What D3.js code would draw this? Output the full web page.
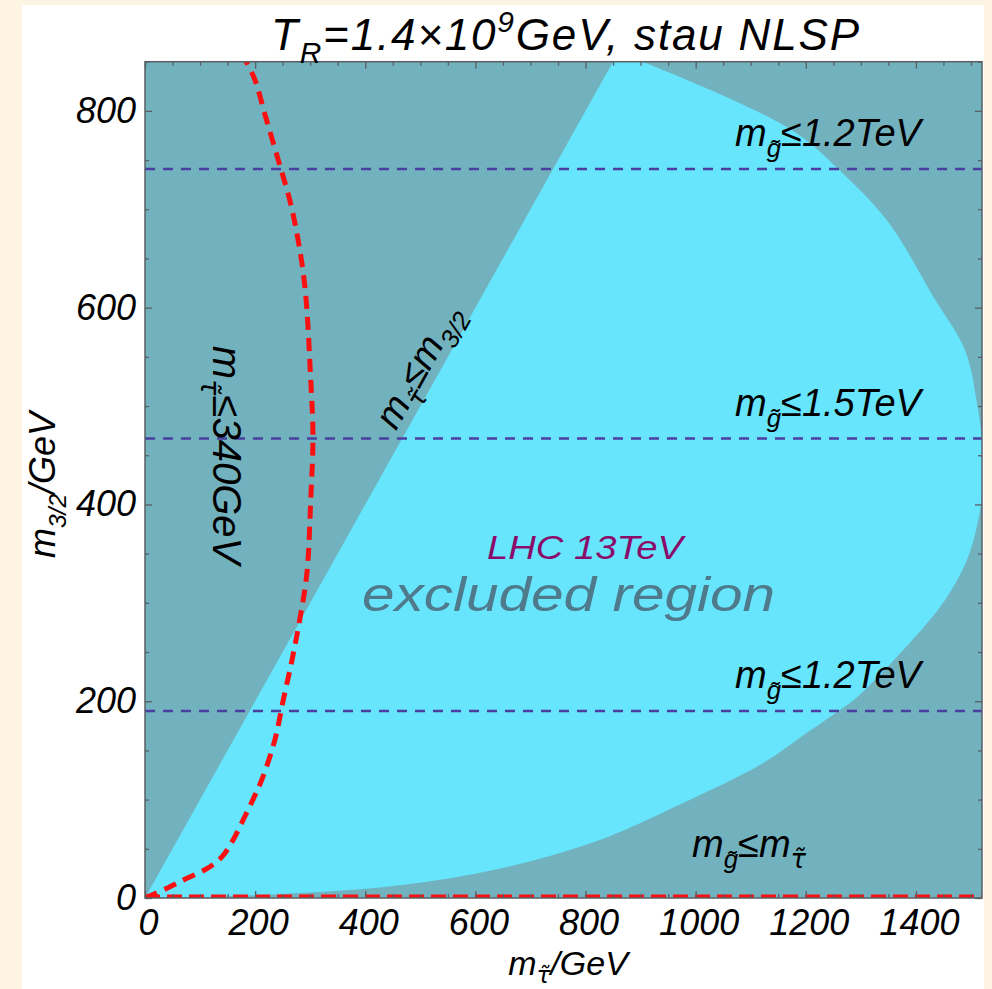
<!DOCTYPE html>
<html>
<head>
<meta charset="utf-8">
<script src="https://cdn.jsdelivr.net/npm/d3@7"></script>
<style>
  html, body { margin: 0; padding: 0; background: #fef4e3; }
  svg { display: block; }
  text { font-family: "Liberation Sans", Arial, Helvetica, sans-serif; }
</style>
</head>
<body>
<svg id="chart" width="992" height="989"></svg>
<script>
// Axis ranges and ticks
const xDomain = [0, 1520];
const yDomain = [0, 850];
const xMajorTicks = [0, 200, 400, 600, 800, 1000, 1200, 1400];
const yMajorTicks = [0, 200, 400, 600, 800];
const minorStep = 50;

// Outer boundary of the LHC 13 TeV excluded region (m_stau, m_3/2), from the top edge clockwise to the origin
const exclusionBoundary = [
  [904, 850], [1068, 811], [1184, 777], [1257, 742], [1347, 689], [1435, 608],
  [1489, 557], [1510, 506], [1524, 435], [1513, 384], [1493, 344], [1453, 303],
  [1393, 262], [1293, 204], [1257, 189], [1202, 168], [1122, 137], [971, 95],
  [826, 59], [645, 30], [463, 13], [281, 5], [100, 1], [0, 0]
];

// Stau mass bound contour (m_stau <= 340 GeV)
const stauBound = [
  [0, 0], [40, 10], [76, 20], [113, 30], [140, 42], [160, 59], [178, 79],
  [196, 100], [212, 120], [236, 161], [251, 201], [267, 242], [281, 283],
  [294, 330], [301, 405], [305, 469], [301, 526], [291, 618], [278, 669],
  [263, 709], [242, 750], [218, 796], [200, 831], [182, 852]
];

// Gluino mass bounds as horizontal lines in m_3/2
const gluinoLines = [
  { m32: 741, label: "1.2TeV" },
  { m32: 467, label: "1.5TeV" },
  { m32: 190, label: "1.2TeV" }
];

const svg = d3.select("#chart");
const W = 992, H = 989;

const x = d3.scaleLinear(xDomain, [145, 982]);
const y = d3.scaleLinear(yDomain, [898, 61.7]);

const colors = {
  panel: "#ffffff",
  allowed: "#72b2be",
  excluded: "#66e5fd",
  red: "#fa1010",
  blue: "#4a3fa0",
  frame: "#5a5f63",
  lhc: "#8a0b6a",
  excludedText: "#4e7a8c"
};

// white panel inside the cream page
svg.append("rect").attr("x", 22).attr("y", 5).attr("width", 962).attr("height", H - 5)
  .attr("fill", colors.panel);

const defs = svg.append("defs");
defs.append("clipPath").attr("id", "plotClip").append("rect")
  .attr("x", x(xDomain[0])).attr("y", y(yDomain[1]))
  .attr("width", x(xDomain[1]) - x(xDomain[0])).attr("height", y(yDomain[0]) - y(yDomain[1]));

// half-plane m_stau >= m_3/2
defs.append("clipPath").attr("id", "belowDiag").append("polygon")
  .attr("points", [[0, 0], [yDomain[1], yDomain[1]], [xDomain[1] + 100, yDomain[1]], [xDomain[1] + 100, 0]]
    .map(d => [x(d[0]), y(d[1])].join(",")).join(" "));

const plot = svg.append("g").attr("clip-path", "url(#plotClip)");

plot.append("rect")
  .attr("x", x(xDomain[0])).attr("y", y(yDomain[1]))
  .attr("width", x(xDomain[1]) - x(xDomain[0])).attr("height", y(yDomain[0]) - y(yDomain[1]))
  .attr("fill", colors.allowed);

const curve = d3.line().x(d => x(d[0])).y(d => y(d[1])).curve(d3.curveCatmullRom.alpha(0.5));

plot.append("g").attr("clip-path", "url(#belowDiag)")
  .append("path")
  .attr("d", curve(exclusionBoundary) + `L${x(0)},${y(yDomain[1])}Z`)
  .attr("fill", colors.excluded);

// gluino bound lines
plot.selectAll("line.gluino").data(gluinoLines).join("line")
  .attr("class", "gluino")
  .attr("x1", x(xDomain[0])).attr("x2", x(xDomain[1]))
  .attr("y1", d => y(d.m32)).attr("y2", d => y(d.m32))
  .attr("stroke", colors.blue).attr("stroke-width", 2.4)
  .attr("stroke-dasharray", "10,8");

// gluino lighter than stau: m_3/2 = 0 boundary
plot.append("line")
  .attr("x1", x(0)).attr("x2", x(xDomain[1]))
  .attr("y1", y(0) - 1).attr("y2", y(0) - 1)
  .attr("stroke", colors.red).attr("stroke-width", 5)
  .attr("stroke-dasharray", "15,7");

// stau mass contour
plot.append("path")
  .attr("d", curve(stauBound))
  .attr("fill", "none").attr("stroke", colors.red).attr("stroke-width", 5)
  .attr("stroke-dasharray", "13,8");

// frame
svg.append("rect")
  .attr("x", x(xDomain[0])).attr("y", y(yDomain[1]))
  .attr("width", x(xDomain[1]) - x(xDomain[0])).attr("height", y(yDomain[0]) - y(yDomain[1]))
  .attr("fill", "none").attr("stroke", colors.frame).attr("stroke-width", 1.5);

// ticks on all four sides, pointing inward
const xMinor = d3.range(0, xDomain[1] + 1, minorStep).filter(v => !xMajorTicks.includes(v));
const yMinor = d3.range(0, yDomain[1] + 1, minorStep).filter(v => !yMajorTicks.includes(v));

function styleAxis(g) {
  g.select(".domain").remove();
  g.selectAll(".tick line").attr("stroke", colors.frame).attr("stroke-width", 1.3);
}

const bottomAxis = svg.append("g").attr("transform", `translate(0,${y(0)})`)
  .call(d3.axisBottom(x).tickValues(xMajorTicks).tickSize(-7).tickPadding(11).tickFormat(d3.format("d")))
  .call(styleAxis);
bottomAxis.selectAll(".tick text")
  .attr("fill", "#000").attr("font-size", 36).attr("font-style", "italic")
  .attr("dy", "0.72em").attr("dx", 3);

svg.append("g").attr("transform", `translate(0,${y(0)})`)
  .call(d3.axisBottom(x).tickValues(xMinor).tickSize(-4).tickFormat(""))
  .call(styleAxis);
svg.append("g").attr("transform", `translate(0,${y(yDomain[1])})`)
  .call(d3.axisTop(x).tickValues(xMajorTicks).tickSize(-7).tickFormat(""))
  .call(styleAxis);
svg.append("g").attr("transform", `translate(0,${y(yDomain[1])})`)
  .call(d3.axisTop(x).tickValues(xMinor).tickSize(-4).tickFormat(""))
  .call(styleAxis);

const leftAxis = svg.append("g").attr("transform", `translate(${x(0)},0)`)
  .call(d3.axisLeft(y).tickValues(yMajorTicks).tickSize(-7).tickPadding(9).tickFormat(d3.format("d")))
  .call(styleAxis);
leftAxis.selectAll(".tick text")
  .attr("fill", "#000").attr("font-size", 36).attr("font-style", "italic");

svg.append("g").attr("transform", `translate(${x(0)},0)`)
  .call(d3.axisLeft(y).tickValues(yMinor).tickSize(-4).tickFormat(""))
  .call(styleAxis);
svg.append("g").attr("transform", `translate(${x(xDomain[1])},0)`)
  .call(d3.axisRight(y).tickValues(yMajorTicks).tickSize(-7).tickFormat(""))
  .call(styleAxis);
svg.append("g").attr("transform", `translate(${x(xDomain[1])},0)`)
  .call(d3.axisRight(y).tickValues(yMinor).tickSize(-4).tickFormat(""))
  .call(styleAxis);

// rich text helper: parts are [string, kind] with kind "sub" | "sup" | undefined
const TAU = "\u03c4\u0303", GLUINO = "g\u0303";
function richText(sel, parts, size, subShift = 0.3) {
  let shift = 0;
  parts.forEach(([s, kind]) => {
    const target = kind === "sub" ? subShift : kind === "sup" ? -0.42 : 0;
    const ts = sel.append("tspan").text(s)
      .attr("font-size", kind ? size * 0.68 : size)
      .attr("dy", ((target - shift) * size).toFixed(2));
    if (s.includes("\u0303") && s !== GLUINO) ts.attr("font-family", "DejaVu Sans");
    shift = target;
  });
  return sel;
}

// title
richText(svg.append("text").attr("x", 565).attr("y", 50)
  .attr("text-anchor", "middle").attr("font-style", "italic").attr("fill", "#000")
  .attr("textLength", 588).attr("lengthAdjust", "spacing"),
  [["T"], ["R", "sub"], ["=1.4\u00d710"], ["9", "sup"], ["GeV, stau NLSP"]], 44);

// axis titles
richText(svg.append("text").attr("x", 568).attr("y", 975)
  .attr("text-anchor", "middle").attr("font-style", "italic").attr("fill", "#000"),
  [["m"], [TAU, "sub"], ["/GeV"]], 34, 0.24);

richText(svg.append("text").attr("transform", `translate(55,485) rotate(-90)`)
  .attr("text-anchor", "middle").attr("font-style", "italic").attr("fill", "#000"),
  [["m"], ["3/2", "sub"], ["/GeV"]], 36);

// gluino bound labels
gluinoLines.forEach(d => {
  richText(svg.append("text").attr("x", 735).attr("y", y(d.m32) - 23)
    .attr("font-style", "italic").attr("fill", "#000"),
    [["m"], [GLUINO, "sub"], ["\u2264" + d.label]], 38);
});

richText(svg.append("text").attr("x", 692).attr("y", 857)
  .attr("font-style", "italic").attr("fill", "#000"),
  [["m"], [GLUINO, "sub"], ["\u2264m"], [TAU, "sub"]], 38);

// diagonal m_stau = m_3/2 label
const diagAngle = Math.atan2(y(1) - y(0), x(1) - x(0)) * 180 / Math.PI;
richText(svg.append("text")
  .attr("transform", `translate(${x(470)},${y(470)}) rotate(${diagAngle}) translate(0,-9)`)
  .attr("font-style", "italic").attr("fill", "#000"),
  [["m"], [TAU, "sub"], ["\u2264m"], ["3/2", "sub"]], 38);

// vertical stau bound label
richText(svg.append("text").attr("transform", `translate(213,455) rotate(90)`)
  .attr("text-anchor", "middle").attr("font-style", "italic").attr("fill", "#000"),
  [["m"], [TAU, "sub"], ["\u2264340GeV"]], 40);

// excluded region labels
svg.append("text").attr("x", 487).attr("y", 559)
  .attr("font-style", "italic").attr("font-size", 33).attr("fill", colors.lhc)
  .attr("textLength", 196).attr("lengthAdjust", "spacingAndGlyphs")
  .text("LHC 13TeV");
svg.append("text").attr("x", 362).attr("y", 611)
  .attr("font-style", "italic").attr("font-size", 48).attr("fill", colors.excludedText)
  .attr("textLength", 413).attr("lengthAdjust", "spacingAndGlyphs")
  .text("excluded region");
</script>
</body>
</html>
